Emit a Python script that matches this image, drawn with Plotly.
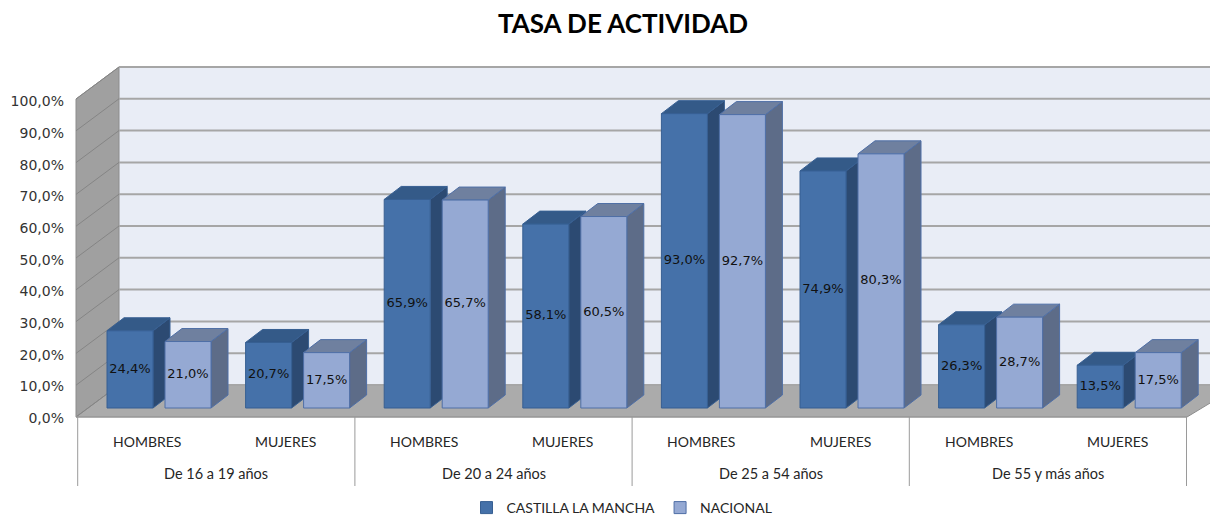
import plotly.graph_objects as go

# ---------------- data ----------------
chart_title = "TASA DE ACTIVIDAD"
age_groups = ["De 16 a 19 años", "De 20 a 24 años", "De 25 a 54 años", "De 55 y más años"]
sexes = ["HOMBRES", "MUJERES"]
series_names = ["CASTILLA LA MANCHA", "NACIONAL"]
castilla_la_mancha = [24.4, 20.7, 65.9, 58.1, 93.0, 74.9, 26.3, 13.5]
nacional = [21.0, 17.5, 65.7, 60.5, 92.7, 80.3, 28.7, 17.5]
y_ticks = [0, 10, 20, 30, 40, 50, 60, 70, 80, 90, 100]
y_tick_labels = [f"{v:.1f}".replace(".", ",") + "%" for v in y_ticks]

# ---------------- layout geometry ----------------
# page offset of the figure (browser body margin)
PAGE_OFF = 8
W, H = 1218 - PAGE_OFF, 517 - PAGE_OFF
ML, MR, MT, MB = 57, 0, 47, 27
# plot area edges in page pixels
P_LEFT = ML + PAGE_OFF
P_RIGHT = W - MR + PAGE_OFF
P_TOP = MT + PAGE_OFF
P_BOTTOM = H - MB + PAGE_OFF

CAT_W = 138.6      # px per sub-category
CAT0 = 159.0       # page px of first sub-category centre (bar plane)
BASE = 408.0       # page px of value 0 on the bar plane
PPU = 3.165        # px per percentage point
LABEL_ZERO = 418.0 # page px of the "0,0%" tick label

# 3D box (page pixels)
FRONT_Y, BACK_Y = 417.0, 385.0
FRONT_LX, BACK_LX = 76.0, 119.0
FRONT_RX, BACK_RX = 1187.0, 1240.0
WALL_TOP_FRONT, WALL_TOP_BACK = 99.0, 67.0
WALL_PPU = (BACK_Y - WALL_TOP_BACK) / 100.0
BAR_DEPTH_X, BAR_DEPTH_Y = 17.0, 13.0
LABEL_SHIFT_X = 12.0   # bar plane -> floor front shift

BAR_W_PX, BAR_GAP_PX = 46.0, 12.0


def xd(px):
    return (px - CAT0) / CAT_W


def yd(py):
    return (BASE - py) / PPU


def path(points):
    pts = [f"{xd(px)},{yd(py)}" for px, py in points]
    return "M " + " L ".join(pts) + " Z"


def path_data(points):
    pts = [f"{x},{y}" for x, y in points]
    return "M " + " L ".join(pts) + " Z"


styles = [
    dict(front="#4571A9", top="#345A88", side="#2C4A72", line="#375F92"),
    dict(front="#95A9D3", top="#6F809F", side="#5D6C88", line="#4F6FA6"),
]
series_values = [castilla_la_mancha, nacional]

bar_w = BAR_W_PX / CAT_W
offsets = [-(BAR_GAP_PX / 2 + BAR_W_PX) / CAT_W, (BAR_GAP_PX / 2) / CAT_W]
ddx = BAR_DEPTH_X / CAT_W
ddy = BAR_DEPTH_Y / PPU

shapes = []
# back wall
shapes.append(dict(type="path", xref="x", yref="y", layer="below",
                   path=path([(BACK_LX, BACK_Y), (BACK_RX, BACK_Y), (BACK_RX, WALL_TOP_BACK), (BACK_LX, WALL_TOP_BACK)]),
                   fillcolor="#E9EDF6", line=dict(width=0)))
# left wall
shapes.append(dict(type="path", xref="x", yref="y", layer="below",
                   path=path([(FRONT_LX, FRONT_Y), (FRONT_LX, WALL_TOP_FRONT), (BACK_LX, WALL_TOP_BACK), (BACK_LX, BACK_Y)]),
                   fillcolor="#A0A0A0", line=dict(color="#8C8C8C", width=1)))
# floor
shapes.append(dict(type="path", xref="x", yref="y", layer="below",
                   path=path([(FRONT_LX, FRONT_Y), (FRONT_RX, FRONT_Y), (BACK_RX, BACK_Y), (BACK_LX, BACK_Y)]),
                   fillcolor="#ABABAB", line=dict(color="#8C8C8C", width=1)))
# gridlines
for v in y_ticks:
    yb = BACK_Y - v * WALL_PPU
    yf = FRONT_Y - v * (FRONT_Y - WALL_TOP_FRONT) / 100.0
    shapes.append(dict(type="line", xref="x", yref="y", layer="below",
                       x0=xd(BACK_LX), x1=xd(BACK_RX), y0=yd(yb), y1=yd(yb),
                       line=dict(color="#A6A6A6", width=2)))
    shapes.append(dict(type="line", xref="x", yref="y", layer="below",
                       x0=xd(FRONT_LX), x1=xd(BACK_LX), y0=yd(yf), y1=yd(yb),
                       line=dict(color="#858585", width=1)))

# 3D faces of bars (computed from the data)
for s, vals in enumerate(series_values):
    st = styles[s]
    for i, v in enumerate(vals):
        xl = i + offsets[s]
        xr = xl + bar_w
        shapes.append(dict(type="path", xref="x", yref="y", layer="below",
                           path=path_data([(xr, 0), (xr, v), (xr + ddx, v + ddy), (xr + ddx, ddy)]),
                           fillcolor=st["side"], line=dict(color=st["line"], width=1)))
        shapes.append(dict(type="path", xref="x", yref="y", layer="below",
                           path=path_data([(xl, v), (xr, v), (xr + ddx, v + ddy), (xl + ddx, v + ddy)]),
                           fillcolor=st["top"], line=dict(color=st["line"], width=1)))

# category table lines
line_col = "#9A9A9A"
shapes.append(dict(type="line", xref="x", yref="y", x0=xd(FRONT_LX), x1=xd(FRONT_RX),
                   y0=yd(FRONT_Y), y1=yd(FRONT_Y), line=dict(color=line_col, width=1)))
n_cat = len(castilla_la_mancha)
for k in range(0, n_cat + 1, len(sexes)):
    xpx = CAT0 - LABEL_SHIFT_X + CAT_W * (k - 0.5)
    shapes.append(dict(type="line", xref="x", yref="y", x0=xd(xpx), x1=xd(xpx),
                       y0=yd(FRONT_Y), y1=yd(486), line=dict(color=line_col, width=1)))

annotations = []
lab_font = dict(family="Lato, Carlito, sans-serif", size=14, color="#262626")
grp_font = dict(family="Lato, Carlito, sans-serif", size=14.5, color="#262626")
for i in range(n_cat):
    annotations.append(dict(x=i - LABEL_SHIFT_X / CAT_W, y=yd(441), xref="x", yref="y",
                            text=sexes[i % len(sexes)], showarrow=False, font=lab_font))
for g, name in enumerate(age_groups):
    xc = g * len(sexes) + (len(sexes) - 1) / 2 - LABEL_SHIFT_X / CAT_W
    annotations.append(dict(x=xc, y=yd(473), xref="x", yref="y",
                            text=name, showarrow=False, font=grp_font))

fig = go.Figure()
for s, vals in enumerate(series_values):
    st = styles[s]
    fig.add_trace(go.Bar(
        x=list(range(n_cat)), y=vals, name=series_names[s],
        offset=offsets[s], width=bar_w,
        marker=dict(color=st["front"], line=dict(color=st["line"], width=1)),
        hoverinfo="skip",
    ))
for s, vals in enumerate(series_values):
    fig.add_trace(go.Scatter(
        x=[i + offsets[s] + bar_w / 2 for i in range(n_cat)],
        y=[v / 2 for v in vals],
        text=[f"{v:.1f}".replace(".", ",") + "%" for v in vals],
        mode="text", showlegend=False, hoverinfo="skip",
        textfont=dict(family="DejaVu Sans", size=13, color="#111111"),
    ))

# invisible trace on y2 so the tick axis is drawn
fig.add_trace(go.Scatter(x=[0], y=[0], yaxis="y2", mode="markers",
                         marker=dict(opacity=0), showlegend=False, hoverinfo="skip"))

fig.update_layout(
    width=W, height=H,
    margin=dict(l=ML, r=MR, t=MT, b=MB),
    paper_bgcolor="white", plot_bgcolor="rgba(0,0,0,0)",
    separators=",.",
    barmode="overlay",
    title=dict(text=chart_title, x=(623 - PAGE_OFF) / W, xref="container", xanchor="center",
               y=1 - (24 - PAGE_OFF) / H, yref="container", yanchor="middle",
               font=dict(family="Lato, sans-serif", size=26, color="#000000", weight="bold")),
    xaxis=dict(range=[xd(P_LEFT), xd(P_RIGHT)], visible=False, fixedrange=True),
    yaxis=dict(range=[yd(P_BOTTOM), yd(P_TOP)], visible=False, fixedrange=True),
    yaxis2=dict(range=[(LABEL_ZERO - P_BOTTOM) / PPU, (LABEL_ZERO - P_TOP) / PPU],
                overlaying="y", side="left", anchor="x",
                tickmode="array", tickvals=y_ticks, ticktext=y_tick_labels,
                showgrid=False, zeroline=False, showline=False, ticks="",
                tickfont=dict(family="DejaVu Sans", size=14, color="#333333")),
    shapes=shapes,
    annotations=annotations,
    legend=dict(orientation="h", xref="container", yref="container",
                x=(622 - PAGE_OFF) / W, xanchor="center",
                y=1 - (508 - PAGE_OFF) / H, yanchor="middle",
                font=dict(family="Lato, sans-serif", size=14, color="#262626"),
                bgcolor="rgba(0,0,0,0)"),
    showlegend=True,
)

fig.write_html("out.html")
